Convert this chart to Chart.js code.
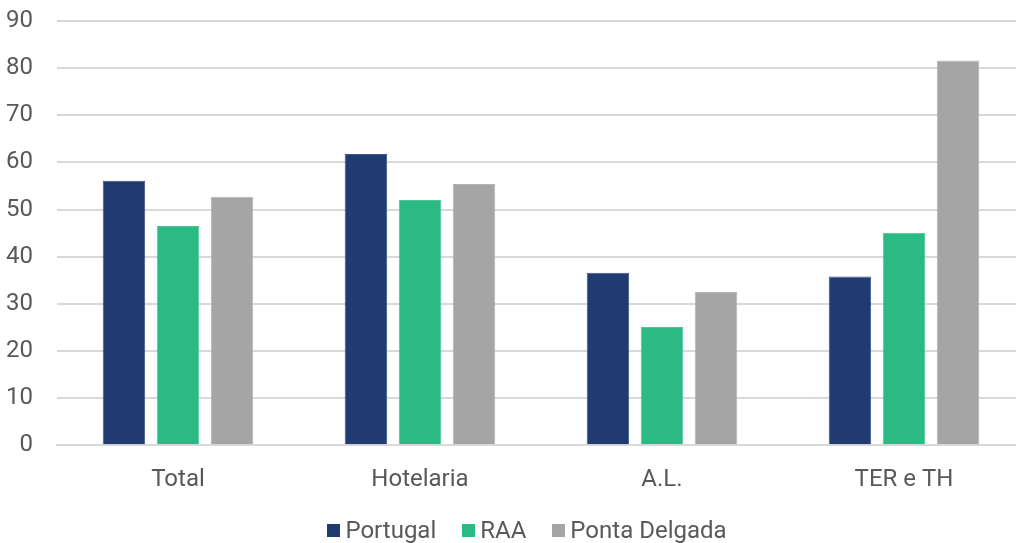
<!DOCTYPE html>
<html>
<head>
<meta charset="utf-8">
<script src="https://cdn.jsdelivr.net/npm/chart.js@4"></script>
<style>
  html, body { margin: 0; padding: 0; background: #fff; overflow: hidden; }
  #wrap { position: relative; width: 1016px; height: 543px; overflow: hidden; }
  #legend { position: absolute; left: 38px; top: 516px; width: 978px; display: flex; justify-content: center;
            font-family: Roboto, "DejaVu Sans", sans-serif; font-size: 24px; color: #595959; line-height: 28px; }
  .item { display: flex; align-items: center; margin: 0 13px; }
  .box { width: 13px; height: 13px; margin-right: 5px; }
</style>
</head>
<body>
<div id="wrap">
  <!-- the original is cropped on the right, so the canvas is a bit wider than the page -->
  <canvas id="chart" width="1026" height="543"></canvas>
  <div id="legend"></div>
</div>
<script>
const categories = ['Total', 'Hotelaria', 'A.L.', 'TER e TH'];
const seriesNames = ['Portugal', 'RAA', 'Ponta Delgada'];
const portugal = [56.1, 61.8, 36.6, 35.8];
const raa = [46.5, 52.0, 25.1, 45.1];
const pontaDelgada = [52.7, 55.4, 32.5, 81.6];
const yTicks = [0, 10, 20, 30, 40, 50, 60, 70, 80, 90];

const colors = ['#203a72', '#2bb984', '#a5a5a5'];
const borders = ['#3d5487', '#4cc596', '#b3b3b3'];
const textColor = '#595959';
const fontFamily = 'Roboto, "DejaVu Sans", sans-serif';

const chart = new Chart(document.getElementById('chart').getContext('2d'), {
    type: 'bar',
    data: {
        labels: categories,
        datasets: [portugal, raa, pontaDelgada].map((values, i) => ({
            label: seriesNames[i],
            data: values,
            backgroundColor: colors[i],
            borderColor: borders[i],
            borderWidth: 1
        }))
    },
    options: {
        responsive: false,
        animation: false,
        layout: { padding: { left: 6, right: 1, top: 21, bottom: 37 } },
        datasets: {
            bar: { categoryPercentage: 0.67, barPercentage: 0.786 }
        },
        plugins: {
            legend: { display: false },
            tooltip: { enabled: false }
        },
        scales: {
            x: {
                grid: { display: false },
                border: { color: '#d9d9d9', width: 2 },
                ticks: { color: textColor, font: { family: fontFamily, size: 24 }, padding: 12 }
            },
            y: {
                min: 0,
                max: 90,
                afterBuildTicks: axis => { axis.ticks = yTicks.map(v => ({ value: v })); },
                // invisible tick marks give the gap between labels and grid
                // (ticks.padding counts twice in the axis width)
                grid: { color: '#d9d9d9', lineWidth: 2, drawTicks: true, tickLength: 24, tickColor: 'rgba(0,0,0,0)' },
                border: { display: false },
                ticks: { color: textColor, font: { family: fontFamily, size: 24 }, padding: 0 }
            }
        }
    }
});

// legend as plain html, square swatch right against the text
const legend = document.getElementById('legend');
seriesNames.forEach((name, i) => {
    const item = document.createElement('div');
    item.className = 'item';
    item.innerHTML = `<span class="box" style="background:${colors[i]}"></span><span>${name}</span>`;
    legend.appendChild(item);
});
</script>
</body>
</html>
